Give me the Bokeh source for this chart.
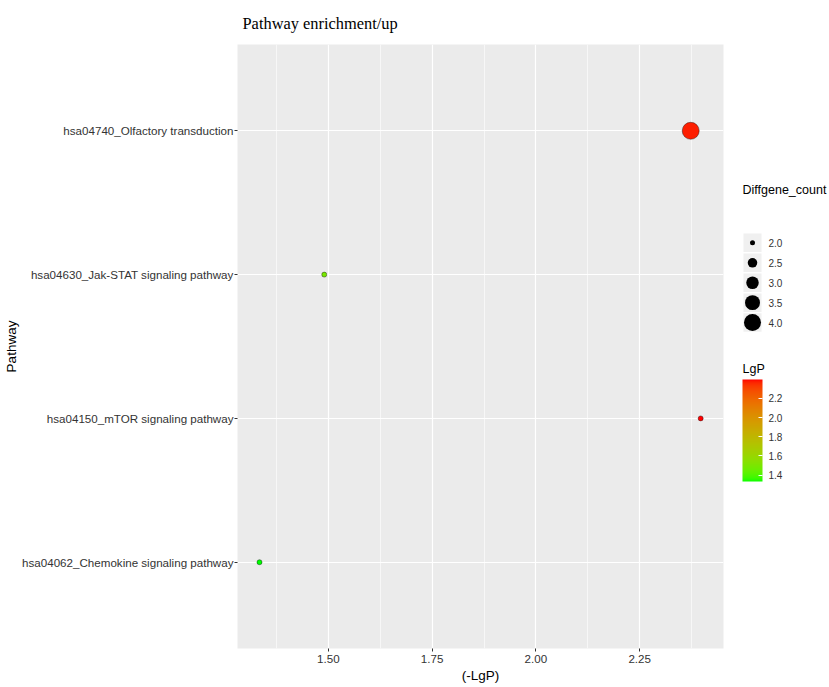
import numpy as np
from bokeh.plotting import figure
from bokeh.layouts import row
from bokeh.models import (ColumnDataSource, FactorRange, Range1d, FixedTicker,
                          LinearColorMapper, ColorBar)
from bokeh.transform import transform
from bokeh.core.properties import value
from bokeh.embed import file_html
from bokeh.resources import INLINE

# ---------------- data ----------------
pathways = ["hsa04062_Chemokine signaling pathway",
            "hsa04150_mTOR signaling pathway",
            "hsa04630_Jak-STAT signaling pathway",
            "hsa04740_Olfactory transduction"]
neg_lgp = [1.334, 2.397, 1.490, 2.373]
diffgene_count = [2, 2, 2, 4]

x_ticks = [1.50, 1.75, 2.00, 2.25]
x_tick_labels = ["1.50", "1.75", "2.00", "2.25"]
x_minor_ticks = [1.375, 1.625, 1.875, 2.125, 2.375]
size_legend_values = [2.0, 2.5, 3.0, 3.5, 4.0]
size_legend_labels = ["2.0", "2.5", "3.0", "3.5", "4.0"]
lgp_ticks = [1.4, 1.6, 1.8, 2.0, 2.2]
lgp_tick_labels = ["1.4", "1.6", "1.8", "2.0", "2.2"]

FONT = "Liberation Sans"

# ---------------- colour scale (Lab interpolation green -> red) -------------
def srgb_to_lab(rgb):
    c = np.asarray(rgb, float)
    lin = np.where(c <= 0.04045, c / 12.92, ((c + 0.055) / 1.055) ** 2.4)
    M = np.array([[0.4124564, 0.3575761, 0.1804375],
                  [0.2126729, 0.7151522, 0.0721750],
                  [0.0193339, 0.1191920, 0.9503041]])
    xyz = M @ lin / np.array([0.95047, 1.0, 1.08883])
    d = 6 / 29
    f = np.where(xyz > d ** 3, np.cbrt(xyz), xyz / (3 * d * d) + 4 / 29)
    return np.array([116 * f[1] - 16, 500 * (f[0] - f[1]), 200 * (f[1] - f[2])])

def lab_to_hex(lab):
    L, a, b = lab
    fy = (L + 16) / 116
    fx = fy + a / 500
    fz = fy - b / 200
    d = 6 / 29
    def finv(t):
        return t ** 3 if t > d else 3 * d * d * (t - 4 / 29)
    xyz = np.array([finv(fx), finv(fy), finv(fz)]) * np.array([0.95047, 1.0, 1.08883])
    Minv = np.array([[3.2404542, -1.5371385, -0.4985314],
                     [-0.9692660, 1.8760108, 0.0415560],
                     [0.0556434, -0.2040259, 1.0572252]])
    lin = np.clip(Minv @ xyz, 0, 1)
    s = np.where(lin <= 0.0031308, 12.92 * lin, 1.055 * lin ** (1 / 2.4) - 0.055)
    s = np.clip(np.round(s * 255), 0, 255).astype(int)
    return "#%02x%02x%02x" % tuple(s)

lab_lo = srgb_to_lab([0, 1, 0])
lab_hi = srgb_to_lab([1, 0, 0])
palette = [lab_to_hex(lab_lo + (lab_hi - lab_lo) * t) for t in np.linspace(0, 1, 256)]
mapper = LinearColorMapper(palette=palette, low=min(neg_lgp), high=max(neg_lgp))

# ---------------- size scale (area) ----------------
D_MIN, D_MAX = 5.0, 17.0
c_lo, c_hi = min(diffgene_count), max(diffgene_count)

def dot_size(v):
    t = (np.asarray(v, float) - c_lo) / (c_hi - c_lo)
    return np.sqrt(D_MIN ** 2 + (D_MAX ** 2 - D_MIN ** 2) * t)

src = ColumnDataSource(dict(pathway=pathways, neg_lgp=neg_lgp,
                            count=diffgene_count,
                            size=list(dot_size(diffgene_count))))

# ---------------- layout constants ----------------
H = 685
TOP, BOTTOM = 44, 35
FRAME_H = H - TOP - BOTTOM
FRAME_BOTTOM = TOP + FRAME_H
W_MAIN = 726
W_LEG = 101

# ---------------- main panel ----------------
p = figure(width=W_MAIN, height=H,
           x_range=Range1d(1.281, 2.452),
           y_range=FactorRange(factors=pathways, range_padding=0.05),
           output_backend="svg", toolbar_location=None,
           min_border_left=237, min_border_right=3,
           min_border_top=TOP, min_border_bottom=BOTTOM,
           title="Pathway enrichment/up")
p.title.text_font = "Liberation Serif"
p.title.text_font_size = "16.4px"
p.title.text_font_style = "normal"
p.title.text_color = "black"
p.title.offset = 5
p.title.standoff = 23

p.background_fill_color = "#EBEBEB"
p.border_fill_color = "white"
p.outline_line_color = None

p.scatter(x="neg_lgp", y="pathway", size="size", source=src,
          fill_color=transform("neg_lgp", mapper),
          line_color="black", line_alpha=0.55, line_width=0.7)

p.xaxis.ticker = FixedTicker(ticks=x_ticks, minor_ticks=x_minor_ticks)
p.xaxis.major_label_overrides = dict(zip(x_ticks, x_tick_labels))
p.xgrid.grid_line_color = "white"
p.xgrid.grid_line_width = 1.2
p.xgrid.minor_grid_line_color = "white"
p.xgrid.minor_grid_line_width = 0.6
p.ygrid.grid_line_color = "white"
p.ygrid.grid_line_width = 1.2

for ax in (p.xaxis, p.yaxis):
    ax.axis_line_color = None
    ax.major_tick_line_color = "#333333"
    ax.major_tick_in = 0
    ax.major_tick_out = 3
    ax.minor_tick_line_color = None
    ax.major_label_text_font = FONT
    ax.major_label_text_font_size = "11.6px"
    ax.major_label_text_color = "#333333"
    ax.major_label_standoff = 2
    ax.axis_label_text_font = FONT
    ax.axis_label_text_font_size = "13.5px"
    ax.axis_label_text_font_style = "normal"
    ax.axis_label_text_color = "black"
    ax.axis_label_standoff = 2
p.xaxis.axis_label = "(-LgP)"
p.yaxis.axis_label = "Pathway"
p.yaxis.axis_label_standoff = 0
p.yaxis.major_label_standoff = 1

# ---------------- legend panel (1 data unit = 1 px) ----------------
leg = figure(width=W_LEG, height=H, x_range=Range1d(0, W_LEG), y_range=Range1d(0, FRAME_H),
             output_backend="svg", toolbar_location=None,
             min_border_left=0, min_border_right=0,
             min_border_top=TOP, min_border_bottom=BOTTOM)
leg.xaxis.visible = False
leg.yaxis.visible = False
leg.grid.visible = False
leg.outline_line_color = None
leg.background_fill_color = "white"

def ly(top_px):
    # page y (from top) -> legend data y
    return FRAME_BOTTOM - top_px

LEFT = 16          # legend left edge (page x 742)
key_x = LEFT + 10
key_top0, key_step = 243, 20
key_y = [ly(key_top0 + key_step * i) for i in range(len(size_legend_values))]

leg.text(x=[LEFT], y=[ly(190)], text=["Diffgene_count"], text_font=value(FONT),
         text_font_size="12.5px", text_baseline="middle", text_align="left",
         text_color="black")
leg.rect(x=[key_x] * len(key_y), y=key_y, width=18, height=18.5,
         width_units="screen", height_units="screen",
         fill_color="#F0F0F0", line_color=None)
leg.scatter(x=[key_x] * len(key_y), y=key_y, size=list(dot_size(size_legend_values)),
            fill_color="black", line_color=None)
leg.text(x=[LEFT + 26] * len(key_y), y=key_y, text=size_legend_labels, text_font=value(FONT),
         text_font_size="10px", text_baseline="middle", text_align="left",
         text_color="#333333")

leg.text(x=[LEFT], y=[ly(370)], text=["LgP"], text_font=value(FONT),
         text_font_size="12.5px", text_baseline="middle", text_align="left",
         text_color="black")

CB_TOP, CB_BOTTOM, CB_W = 381, 483, 20
cb = ColorBar(color_mapper=mapper, ticker=FixedTicker(ticks=lgp_ticks),
              major_label_overrides=dict(zip(lgp_ticks, lgp_tick_labels)),
              location=(LEFT, ly(CB_BOTTOM)), width=CB_W, height=CB_BOTTOM - CB_TOP,
              padding=0, margin=0, label_standoff=6,
              major_label_text_font=FONT, major_label_text_font_size="10px",
              major_label_text_color="#333333",
              major_tick_line_color="white", major_tick_in=4, major_tick_out=0,
              minor_tick_line_color=None, bar_line_color=None,
              border_line_color=None, background_fill_color=None)
leg.add_layout(cb, "center")

# white ticks on the left edge of the colour bar as well
lo, hi = mapper.low, mapper.high
tick_y = [ly(CB_BOTTOM) + (v - lo) / (hi - lo) * (CB_BOTTOM - CB_TOP) for v in lgp_ticks]
leg.segment(x0=[LEFT] * len(tick_y), y0=tick_y, x1=[LEFT + 4] * len(tick_y), y1=tick_y,
            line_color="white", line_width=1)

layout = row(p, leg)
open("out.html", "w").write(file_html(layout, INLINE))
